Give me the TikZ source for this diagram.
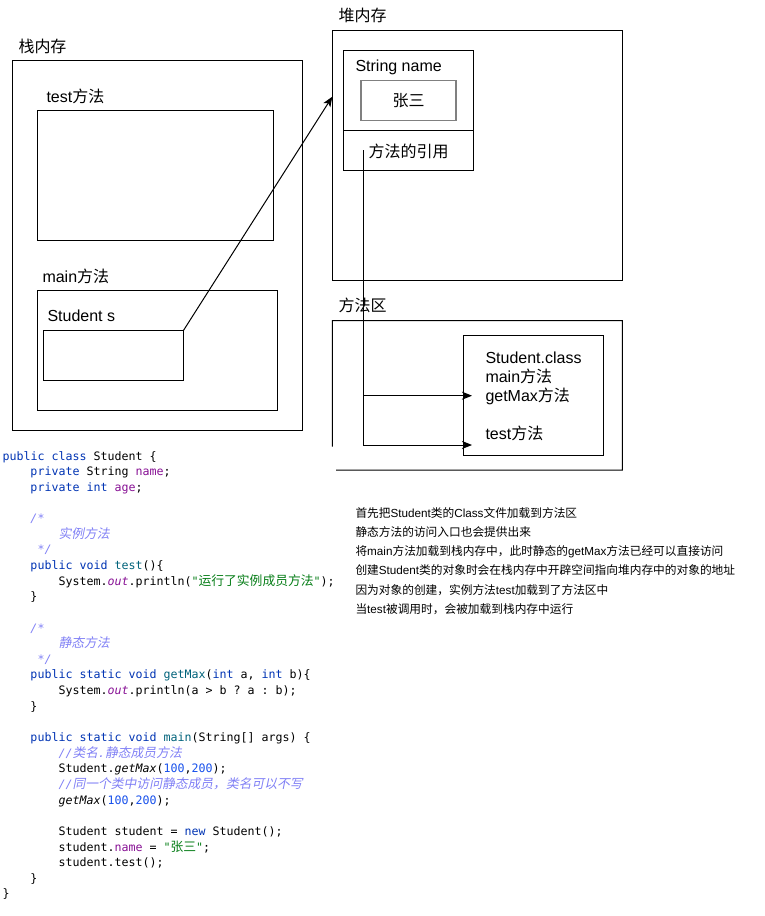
\documentclass[tikz,border=0pt]{standalone}
\usepackage{fontspec}
\setmainfont{Liberation Sans}
\setmonofont{DejaVu Sans Mono}
\newfontfamily\zhfont{Noto Sans CJK SC}
\newfontfamily\zhcode{Noto Sans CJK SC}[Scale=1.1]
\newfontfamily\zhcodeit{Noto Sans CJK SC}[Scale=1.1,FakeSlant=0.2]
\usetikzlibrary{arrows.meta}
\definecolor{kwc}{RGB}{0,51,179}
\definecolor{fldc}{RGB}{135,16,148}
\definecolor{mthc}{RGB}{0,98,122}
\definecolor{strc}{RGB}{6,125,23}
\definecolor{numc}{RGB}{23,80,235}
\definecolor{cmtc}{RGB}{128,128,245}
\definecolor{zsgray}{RGB}{128,128,128}
\newcommand\zh[1]{{\zhfont #1}}
\newcommand\zc[1]{{\zhcode #1}}
\newcommand\zci[1]{{\zhcodeit #1}}
\newcommand\kw[1]{\textcolor{kwc}{#1}}
\newcommand\fld[1]{\textcolor{fldc}{#1}}
\newcommand\sfld[1]{\textcolor{fldc}{\itshape #1}}
\newcommand\mth[1]{\textcolor{mthc}{#1}}
\newcommand\str[1]{\textcolor{strc}{#1}}
\newcommand\nm[1]{\textcolor{numc}{#1}}
\newcommand\cmt[1]{\textcolor{cmtc}{\itshape #1}}
\newcommand\codeline[3]{\node[codetxt] (cl#1) at ({2+7*#2},{460+15.64*#1}) {#3};}
\begin{document}
\begin{tikzpicture}[x=1pt,y=-1pt,line width=1pt,
  boxs/.style={draw, anchor=north west, inner sep=0pt, outer sep=0pt},
  lbl/.style={anchor=base west, inner sep=0pt, font=\fontsize{16}{19}\selectfont},
  notetxt/.style={anchor=base west, inner sep=0pt, font=\fontsize{11.7}{14}\selectfont},
  codetxt/.style={anchor=base west, inner sep=0pt, font=\ttfamily\fontsize{11.63}{14}\selectfont},
  arr/.style={-{Stealth[length=10pt,width=8pt,inset=2.5pt]}}]
\useasboundingbox (0,0) rectangle (765,916);

% stack memory
\node[boxs, minimum width=290pt, minimum height=369.3pt] (stack) at (12.3,60.7) {};
\node[lbl] (stacklbl) at (18,52) {\zh{栈内存}};
\node[lbl] (testlbl) at (46,102) {test\zh{方法}};
\node[boxs, minimum width=236pt, minimum height=130pt] (testbox) at (37.3,110) {};
\node[lbl] (mainlbl) at (42,282) {main\zh{方法}};
\node[boxs, minimum width=240pt, minimum height=119.7pt] (mainbox) at (37.3,290.3) {};
\node[lbl] (slbl) at (47,321) {Student s};
\node[boxs, minimum width=140pt, minimum height=49.3pt] (sbox) at (43.3,330.7) {};

% heap memory
\node[lbl] (heaplbl) at (338,21) {\zh{堆内存}};
\node[boxs, minimum width=290pt, minimum height=249.3pt] (heap) at (332.3,30.7) {};
\node[boxs, minimum width=130pt, minimum height=119.3pt] (obj) at (343.3,50.7) {};
\draw (obj.west |- 0,130.7) -- (obj.east |- 0,130.7);
\node[lbl] (namelbl) at (355,71) {String name};
\node[draw=zsgray, line width=1.5pt, minimum width=95pt, minimum height=40pt, inner sep=0pt,
      font=\fontsize{16}{19}\selectfont] (zs) at (408.5,100.7) {\zh{张三}};
\node[lbl] (reflbl) at (368,157) {\zh{方法的引用}};

% method area
\node[lbl] (malbl) at (338,311) {\zh{方法区}};
\node[anchor=north west, inner sep=0pt, outer sep=0pt, minimum width=290pt, minimum height=149.3pt] (marea) at (332.3,320.7) {};
\coordinate (maL) at (332.3,446.7);
\coordinate (maB) at (336,470);
\draw (maL) -- (marea.north west) -- (marea.north east) -- (marea.south east) -- (maB);
\node[boxs, minimum width=140pt, minimum height=120pt] (cls) at (463.3,335) {};
\node[lbl] (clsname) at (485,363) {Student.class};
\node[lbl] (clsmain) at (485,382) {main\zh{方法}};
\node[lbl] (clsgm) at (485,401) {getMax\zh{方法}};
\node[lbl] (clstest) at (485,439) {test\zh{方法}};

% connectors
\coordinate (hin) at (332.3,96.7);
\draw[arr] (sbox.north east) -- (hin);
\coordinate (refS) at (363.3,150);
\coordinate (tgm) at (472,395.7);
\coordinate (tts) at (472,445);
\draw[arr] (refS) |- (tgm);
\draw[arr] (refS) |- (tts);

% notes
\node[notetxt] (n1) at (355,517.5) {\zh{首先把}Student\zh{类的}Class\zh{文件加载到方法区}};
\node[notetxt] (n2) at (355,536.5) {\zh{静态方法的访问入口也会提供出来}};
\node[notetxt] (n3) at (355,555.5) {\zh{将}main\zh{方法加载到栈内存中，此时静态的}getMax\zh{方法已经可以直接访问}};
\node[notetxt] (n4) at (355,574.5) {\zh{创建}Student\zh{类的对象时会在栈内存中开辟空间指向堆内存中的对象的地址}};
\node[notetxt] (n5) at (355,594) {\zh{因为对象的创建，实例方法}test\zh{加载到了方法区中}};
\node[notetxt] (n6) at (355,613) {\zh{当}test\zh{被调用时，会被加载到栈内存中运行}};

% code
\codeline{0}{0}{\kw{public class} Student \{}
\codeline{1}{4}{\kw{private} String \fld{name};}
\codeline{2}{4}{\kw{private int} \fld{age};}
\codeline{4}{4}{\cmt{/*}}
\codeline{5}{8}{\cmt{\zci{实例方法}}}
\codeline{6}{5}{\cmt{*/}}
\codeline{7}{4}{\kw{public void} \mth{test}()\{}
\codeline{8}{8}{System.\sfld{out}.println(\str{"\zc{运行了实例成员方法}"});}
\codeline{9}{4}{\}}
\codeline{11}{4}{\cmt{/*}}
\codeline{12}{8}{\cmt{\zci{静态方法}}}
\codeline{13}{5}{\cmt{*/}}
\codeline{14}{4}{\kw{public static void} \mth{getMax}(\kw{int} a, \kw{int} b)\{}
\codeline{15}{8}{System.\sfld{out}.println(a > b ? a : b);}
\codeline{16}{4}{\}}
\codeline{18}{4}{\kw{public static void} \mth{main}(String[] args) \{}
\codeline{19}{8}{\cmt{//\zci{类名}.\zci{静态成员方法}}}
\codeline{20}{8}{Student.\textit{getMax}(\nm{100},\nm{200});}
\codeline{21}{8}{\cmt{//\zci{同一个类中访问静态成员，类名可以不写}}}
\codeline{22}{8}{\textit{getMax}(\nm{100},\nm{200});}
\codeline{24}{8}{Student student = \kw{new} Student();}
\codeline{25}{8}{student.\fld{name} = \str{"\zc{张三}"};}
\codeline{26}{8}{student.test();}
\codeline{27}{4}{\}}
\codeline{28}{0}{\}}
\end{tikzpicture}
\end{document}
